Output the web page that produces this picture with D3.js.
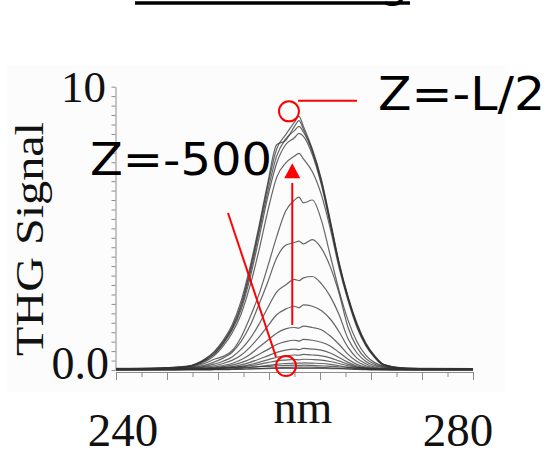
<!DOCTYPE html>
<html lang="en">
<head>
    <meta charset="UTF-8">
    <title>THG Signal vs wavelength</title>
    <style>
        body { margin: 0; background: #fff; }
        .curve { fill: none; stroke: #333; stroke-width: 1.2px; stroke-opacity: 0.75; }
        .axis path, .axis line { stroke: #8c8c8c; }
        .serif { font-family: "Liberation Serif", "Times New Roman", serif; fill: #111; }
        .sans { font-family: "DejaVu Sans", Verdana, sans-serif; fill: #000; }
        .note { stroke: #ff0000; stroke-width: 2px; fill: none; }
    </style>
</head>
<body>
<div id="chart"></div>
<script src="https://cdn.jsdelivr.net/npm/d3@7"></script>
<script>
    // wavelength grid (nm) shared by every spectrum
    const wavelengths = [240, 245, 248, 250, 251, 252, 253, 254, 255, 256, 257, 258, 259, 260, 260.5,
        261, 262, 263, 264, 265, 266, 267, 268, 269, 270, 272, 275, 280];

    // THG spectra, from Z = -L/2 (top) down to Z = -500 (bottom)
    const c01 = [0.04, 0.07, 0.13, 0.38, 0.62, 1.0, 1.5, 2.3, 3.5, 4.95, 6.5, 7.8, 8.3, 8.75, 8.95, 8.6, 7.8, 6.75, 5.3, 3.8, 2.6, 1.65, 0.95, 0.5, 0.2, 0.08, 0.05, 0.04];
    const c02 = [0.06, 0.08, 0.14, 0.4, 0.65, 1.05, 1.58, 2.42, 3.62, 5.05, 6.6, 7.95, 8.1, 8.6, 8.8, 8.5, 7.75, 6.7, 5.25, 3.75, 2.55, 1.6, 0.92, 0.48, 0.19, 0.08, 0.06, 0.05];
    const c03 = [0.03, 0.06, 0.12, 0.36, 0.58, 0.96, 1.46, 2.22, 3.38, 4.82, 6.3, 7.55, 8.15, 8.45, 8.6, 8.4, 7.7, 6.62, 5.2, 3.74, 2.55, 1.6, 0.9, 0.46, 0.18, 0.06, 0.04, 0.03];
    const c04 = [0.05, 0.07, 0.12, 0.34, 0.55, 0.92, 1.4, 2.12, 3.22, 4.62, 6.1, 7.3, 7.95, 8.2, 8.35, 8.25, 7.6, 6.55, 5.15, 3.7, 2.5, 1.56, 0.88, 0.45, 0.17, 0.07, 0.05, 0.04];
    const c05 = [0.02, 0.05, 0.1, 0.3, 0.5, 0.84, 1.3, 1.96, 2.95, 4.2, 5.6, 6.8, 7.3, 7.55, 7.65, 7.45, 7.0, 6.2, 5.0, 3.6, 2.45, 1.5, 0.85, 0.43, 0.16, 0.06, 0.03, 0.02];
    const c06 = [0.03, 0.05, 0.09, 0.24, 0.38, 0.48, 0.68, 1.15, 1.85, 2.65, 3.65, 4.7, 5.6, 6.0, 6.1, 5.9, 6.0, 5.3, 4.05, 2.8, 1.75, 1.0, 0.52, 0.26, 0.13, 0.06, 0.04, 0.03];
    const c07 = [0.02, 0.04, 0.07, 0.17, 0.28, 0.42, 0.62, 1.0, 1.55, 2.3, 3.1, 3.95, 4.4, 4.5, 4.55, 4.45, 4.6, 4.3, 3.65, 2.7, 1.5, 0.8, 0.4, 0.2, 0.1, 0.05, 0.03, 0.02];
    const c08 = [0.01, 0.03, 0.06, 0.13, 0.21, 0.31, 0.46, 0.73, 1.1, 1.6, 2.2, 2.75, 3.0, 3.2, 3.15, 3.25, 3.3, 3.05, 2.6, 1.95, 1.1, 0.6, 0.3, 0.15, 0.08, 0.04, 0.02, 0.01];
    const c09 = [0.02, 0.03, 0.05, 0.1, 0.15, 0.23, 0.34, 0.52, 0.8, 1.15, 1.55, 1.95, 2.15, 2.25, 2.2, 2.3, 2.25, 2.1, 1.8, 1.35, 0.8, 0.42, 0.22, 0.1, 0.05, 0.03, 0.02, 0.02];
    const c10 = [0.01, 0.02, 0.04, 0.07, 0.1, 0.16, 0.23, 0.36, 0.55, 0.8, 1.05, 1.3, 1.45, 1.5, 1.48, 1.55, 1.5, 1.42, 1.2, 0.9, 0.55, 0.3, 0.15, 0.07, 0.04, 0.02, 0.01, 0.01];
    const c11 = [0.02, 0.02, 0.03, 0.05, 0.08, 0.12, 0.17, 0.26, 0.38, 0.55, 0.72, 0.9, 1.0, 1.05, 1.02, 1.08, 1.05, 0.98, 0.85, 0.62, 0.38, 0.2, 0.1, 0.05, 0.03, 0.02, 0.02, 0.02];
    const c12 = [0.01, 0.01, 0.02, 0.04, 0.06, 0.09, 0.12, 0.18, 0.27, 0.38, 0.5, 0.62, 0.7, 0.74, 0.72, 0.76, 0.74, 0.7, 0.6, 0.44, 0.27, 0.14, 0.07, 0.04, 0.02, 0.01, 0.01, 0.01];
    const c13 = [0, 0.01, 0.02, 0.03, 0.04, 0.06, 0.09, 0.13, 0.19, 0.27, 0.36, 0.45, 0.5, 0.53, 0.52, 0.55, 0.53, 0.5, 0.43, 0.32, 0.2, 0.1, 0.05, 0.03, 0.01, 0.01, 0, 0];
    const c14 = [0.03, 0.03, 0.04, 0.05, 0.06, 0.07, 0.09, 0.11, 0.15, 0.2, 0.26, 0.32, 0.35, 0.37, 0.36, 0.38, 0.37, 0.35, 0.3, 0.23, 0.15, 0.09, 0.06, 0.04, 0.03, 0.03, 0.03, 0.03];
    const c15 = [0, 0, 0.01, 0.01, 0.02, 0.03, 0.04, 0.06, 0.09, 0.12, 0.16, 0.2, 0.23, 0.24, 0.24, 0.25, 0.24, 0.23, 0.2, 0.15, 0.09, 0.05, 0.03, 0.01, 0.01, 0, 0, 0];
    const c16 = [0.05, 0.05, 0.05, 0.06, 0.06, 0.07, 0.08, 0.09, 0.1, 0.12, 0.13, 0.15, 0.16, 0.17, 0.16, 0.17, 0.16, 0.15, 0.13, 0.11, 0.09, 0.07, 0.06, 0.05, 0.05, 0.05, 0.05, 0.05];
    const c17 = [0, 0, 0, 0, 0.01, 0.01, 0.02, 0.03, 0.04, 0.05, 0.07, 0.08, 0.09, 0.1, 0.1, 0.1, 0.1, 0.09, 0.08, 0.06, 0.04, 0.02, 0.01, 0, 0, 0, 0, 0];
    const c18 = [0.02, 0.02, 0.02, 0.02, 0.02, 0.03, 0.03, 0.03, 0.04, 0.05, 0.05, 0.06, 0.06, 0.06, 0.06, 0.06, 0.06, 0.06, 0.05, 0.05, 0.04, 0.03, 0.03, 0.02, 0.02, 0.02, 0.02, 0.02];
    const spectra = [c01, c02, c03, c04, c05, c06, c07, c08, c09, c10, c11, c12, c13, c14, c15, c16, c17, c18];

    // axis labels
    const xTickLabels = ["240", "280"];
    const yTickLabels = ["0.0", "10"];
    const yTitle = "THG Signal";
    const xTitle = "nm";
    const topLabel = "Z=-L/2";
    const bottomLabel = "Z=-500";

    const width = 550, height = 455;

    const svg = d3.select("#chart").append("svg")
        .attr("width", width)
        .attr("height", height);

    const x = d3.scaleLinear().domain([240, 280]).range([116, 473]);
    const y = d3.scaleLinear().domain([0, 10]).range([370, 86.7]);

    // very faint backdrop of the pasted plot image
    svg.append("rect")
        .attr("x", 7).attr("y", 66).attr("width", 498).attr("height", 326)
        .attr("fill", "#fcfcfc");

    // cut-off underlined title at the top edge
    svg.append("line")
        .attr("x1", 135).attr("x2", 410).attr("y1", 3).attr("y2", 3)
        .attr("stroke", "#000").attr("stroke-width", 3.5);
    svg.append("text")
        .attr("class", "sans")
        .attr("x", 380).attr("y", -3)
        .attr("font-size", 44)
        .text("g");

    // x axis: minor + major ticks
    const xStep = 40 / 14;
    const xTicks = d3.range(15).map(k => 240 + k * xStep);
    svg.append("g")
        .attr("class", "axis")
        .attr("transform", "translate(0,372)")
        .call(d3.axisBottom(x).tickValues(xTicks.filter((d, i) => i % 2 === 1)).tickSize(5).tickSizeOuter(0).tickFormat(""));
    svg.append("g")
        .attr("class", "axis")
        .attr("transform", "translate(0,372)")
        .call(d3.axisBottom(x).tickValues(xTicks.filter((d, i) => i % 2 === 0)).tickSize(8).tickSizeOuter(0).tickFormat(""));

    // y axis
    const yTicks = d3.range(31).map(k => k / 3);
    svg.append("g")
        .attr("class", "axis")
        .attr("transform", "translate(115.5,0)")
        .call(d3.axisLeft(y).tickValues(yTicks).tickSize(4).tickSizeOuter(0).tickFormat(""));

    // spectra
    const line = d3.line()
        .x((d, i) => x(wavelengths[i]))
        .y(d => y(d))
        .curve(d3.curveMonotoneX);

    svg.append("g")
        .selectAll("path")
        .data(spectra.slice().reverse())
        .join("path")
        .attr("class", "curve")
        .attr("d", line);

    // tick labels
    svg.append("text").attr("class", "serif")
        .attr("x", 106).attr("y", 102)
        .attr("text-anchor", "end").attr("font-size", 45)
        .text(yTickLabels[1]);
    svg.append("text").attr("class", "serif")
        .attr("x", 109).attr("y", 379)
        .attr("text-anchor", "end").attr("font-size", 46)
        .text(yTickLabels[0]);

    svg.append("text").attr("class", "serif")
        .attr("x", 123).attr("y", 446)
        .attr("text-anchor", "middle").attr("font-size", 47)
        .text(xTickLabels[0]);
    svg.append("text").attr("class", "serif")
        .attr("x", 458).attr("y", 446)
        .attr("text-anchor", "middle").attr("font-size", 47)
        .text(xTickLabels[1]);

    // axis titles
    svg.append("text").attr("class", "serif")
        .attr("x", 303).attr("y", 423)
        .attr("text-anchor", "middle").attr("font-size", 46)
        .text(xTitle);
    svg.append("text").attr("class", "serif")
        .attr("transform", "translate(43,239) rotate(-90)")
        .attr("text-anchor", "middle").attr("font-size", 40)
        .attr("textLength", 234).attr("lengthAdjust", "spacingAndGlyphs")
        .text(yTitle);

    // red annotations (in data units)
    const peakMark = { nm: 259.38, v: 9.13 };
    const baseMark = { nm: 259.05, v: 0.14 };

    svg.append("circle").attr("class", "note")
        .attr("cx", x(peakMark.nm)).attr("cy", y(peakMark.v)).attr("r", 10);
    svg.append("line").attr("class", "note")
        .attr("x1", x(260.4)).attr("y1", y(9.5))
        .attr("x2", x(267.0)).attr("y2", y(9.5));

    svg.append("circle").attr("class", "note")
        .attr("cx", x(baseMark.nm)).attr("cy", y(baseMark.v)).attr("r", 10);
    svg.append("line").attr("class", "note")
        .attr("x1", x(252.55)).attr("y1", y(5.54))
        .attr("x2", x(257.93)).attr("y2", y(0.46));

    // growth arrow
    const arrowX = x(259.75);
    svg.append("line").attr("class", "note")
        .attr("x1", arrowX).attr("y1", y(1.59))
        .attr("x2", arrowX).attr("y2", y(6.6));
    const tipY = y(7.3);
    svg.append("path")
        .attr("d", `M${arrowX},${tipY} L${arrowX - 8},${tipY + 15} L${arrowX + 8},${tipY + 15} Z`)
        .attr("fill", "#ff0000");

    svg.append("text").attr("class", "sans")
        .attr("x", 378).attr("y", 110).attr("font-size", 46)
        .attr("textLength", 167).attr("lengthAdjust", "spacingAndGlyphs")
        .text(topLabel);
    svg.append("text").attr("class", "sans")
        .attr("x", 90).attr("y", 175).attr("font-size", 45)
        .attr("textLength", 182).attr("lengthAdjust", "spacingAndGlyphs")
        .text(bottomLabel);
</script>
</body>
</html>
